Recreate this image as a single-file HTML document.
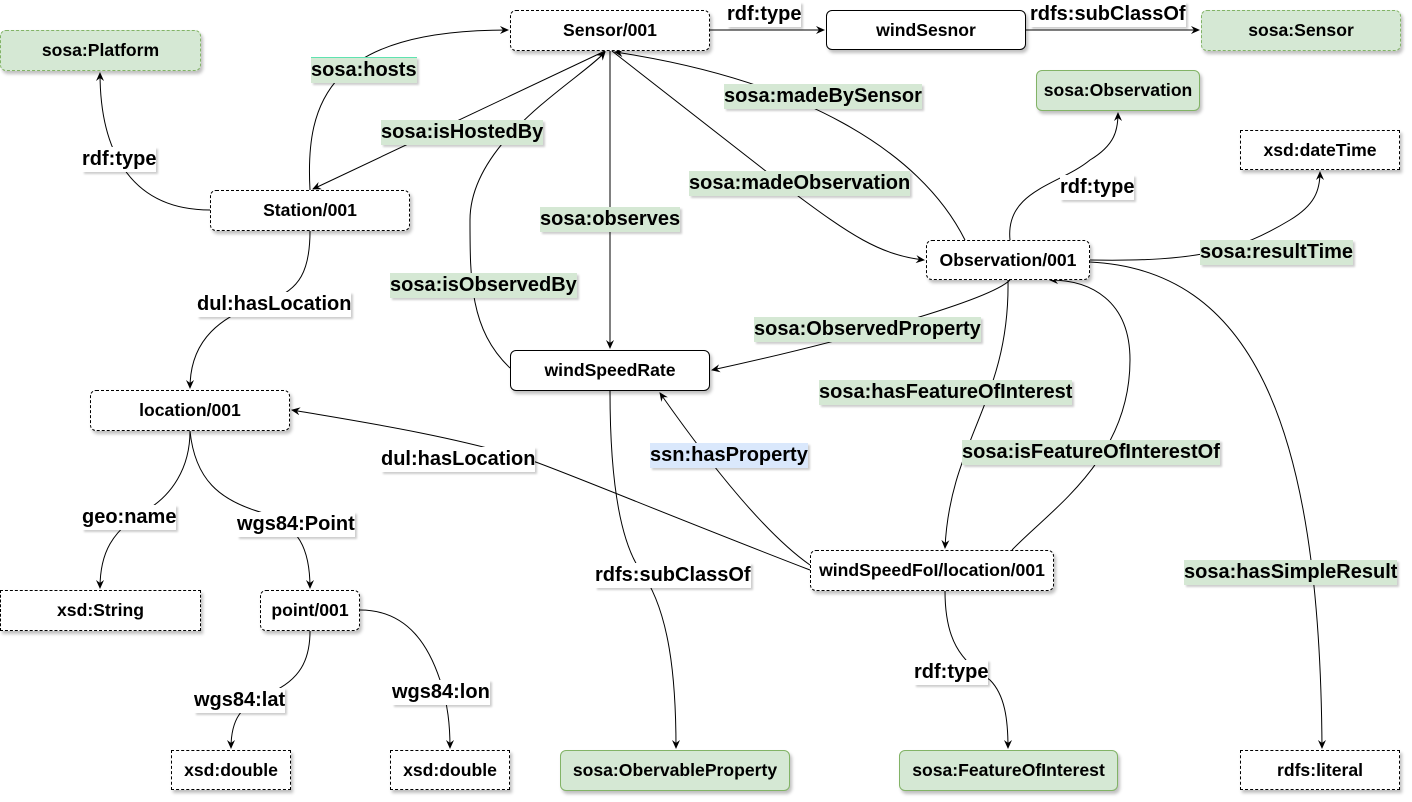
<!DOCTYPE html>
<html><head><meta charset="utf-8"><style>
body{margin:0;width:1412px;height:802px;background:#fff;position:relative;overflow:hidden;font-family:"Liberation Sans",Arial,sans-serif;}
.n{position:absolute;box-sizing:border-box;display:flex;align-items:center;justify-content:center;font-weight:bold;font-size:17.6px;color:#000;background:#fff;border:1px dashed #000;border-radius:6px;box-shadow:2px 3px 3px rgba(0,0,0,0.25);white-space:nowrap}
.s{border-style:solid}
.g{background:#d5e8d4;border-color:#82b366}
.q{border-radius:0}
.l{position:absolute;font-weight:bold;font-size:20px;line-height:25px;height:25px;white-space:nowrap;background:#fff;box-shadow:2px 2px 2px rgba(0,0,0,0.2);}
.lg{background:#d5e8d4}
.lb{background:#dae8fc}
svg{position:absolute;left:0;top:0}
</style></head><body>
<svg width="1412" height="802" fill="none" stroke="#000" stroke-width="1">
<defs><marker id="a" markerWidth="10" markerHeight="10" refX="8" refY="5" orient="auto" markerUnits="userSpaceOnUse"><path d="M0,1 L9,5 L0,9 L3,5Z" fill="#000" stroke="none"/></marker></defs>
<g marker-end="url(#a)">
<path d="M310,190 C305,100 330,30 508,30"/>
<path d="M605,51 L313,189"/>
<path d="M210,210 C130,210 100,150 100,73"/>
<path d="M710,30 L824,30"/>
<path d="M1026,30 L1199,30"/>
<path d="M610,51 L610,348"/>
<path d="M510,368 C470,330 470,280 470,220 C470,140 580,80 605,52"/>
<path d="M612,51 L790,190 C850,235 880,255 924,260"/>
<path d="M965,240 C920,150 800,80 615,52"/>
<path d="M1010,240 C1005,190 1060,185 1090,160 C1115,145 1118,130 1118,113"/>
<path d="M1090,260 C1200,262 1240,250 1290,220 C1315,205 1320,190 1320,172"/>
<path d="M1090,262 C1250,270 1320,420 1322,748"/>
<path d="M1010,280 C990,300 850,340 712,370"/>
<path d="M1008,280 C1010,400 950,440 945,548"/>
<path d="M1012,550 C1050,510 1130,460 1130,360 C1130,300 1090,280 1050,280"/>
<path d="M810,565 C760,530 700,450 660,393"/>
<path d="M810,570 C680,520 560,470 530,460 C450,435 350,420 292,410"/>
<path d="M610,391 C610,480 620,540 640,570 C670,610 676,680 676,748"/>
<path d="M945,591 C945,640 960,660 990,680 C1005,695 1008,720 1008,748"/>
<path d="M310,231 C310,270 300,290 270,300 C220,315 190,340 190,388"/>
<path d="M190,431 C190,470 170,495 150,508 C110,530 100,555 100,588"/>
<path d="M190,431 C195,480 220,500 260,512 C300,525 310,550 310,588"/>
<path d="M310,631 C310,660 300,680 270,693 C240,705 231,720 231,748"/>
<path d="M360,610 C410,610 430,650 440,680 C448,705 450,725 450,748"/>
</g></svg>
<div class="n g" style="left:0;top:30px;width:201px;height:41px">sosa:Platform</div>
<div class="n" style="left:510px;top:10px;width:200px;height:41px">Sensor/001</div>
<div class="n s" style="left:826px;top:10px;width:200px;height:40px">windSesnor</div>
<div class="n g" style="left:1201px;top:10px;width:200px;height:41px">sosa:Sensor</div>
<div class="n g s" style="left:1036px;top:70px;width:164px;height:41px">sosa:Observation</div>
<div class="n q" style="left:1240px;top:130px;width:160px;height:40px">xsd:dateTime</div>
<div class="n" style="left:210px;top:190px;width:200px;height:41px">Station/001</div>
<div class="n" style="left:926px;top:240px;width:164px;height:40px">Observation/001</div>
<div class="n s" style="left:510px;top:350px;width:200px;height:41px">windSpeedRate</div>
<div class="n" style="left:90px;top:390px;width:200px;height:41px">location/001</div>
<div class="n" style="left:810px;top:550px;width:244px;height:41px">windSpeedFoI/location/001</div>
<div class="n q" style="left:0;top:590px;width:201px;height:41px">xsd:String</div>
<div class="n" style="left:260px;top:590px;width:100px;height:41px">point/001</div>
<div class="n q" style="left:171px;top:750px;width:120px;height:40px">xsd:double</div>
<div class="n q" style="left:390px;top:750px;width:120px;height:40px">xsd:double</div>
<div class="n g s" style="left:560px;top:750px;width:230px;height:41px">sosa:ObervableProperty</div>
<div class="n g s" style="left:899px;top:750px;width:219px;height:41px">sosa:FeatureOfInterest</div>
<div class="n q" style="left:1240px;top:750px;width:160px;height:40px">rdfs:literal</div>

<div class="l lg" style="left:311px;top:57px;border-top:1px solid #5fe3b0">sosa:hosts</div>
<div class="l lg" style="left:381px;top:120px">sosa:isHostedBy</div>
<div class="l" style="left:82px;top:147px">rdf:type</div>
<div class="l" style="left:727px;top:2px">rdf:type</div>
<div class="l" style="left:1030px;top:2px">rdfs:subClassOf</div>
<div class="l lg" style="left:540px;top:207px">sosa:observes</div>
<div class="l lg" style="left:390px;top:273px">sosa:isObservedBy</div>
<div class="l lg" style="left:689px;top:171px">sosa:madeObservation</div>
<div class="l lg" style="left:724px;top:84px">sosa:madeBySensor</div>
<div class="l" style="left:1060px;top:175px">rdf:type</div>
<div class="l lg" style="left:1200px;top:240px">sosa:resultTime</div>
<div class="l lg" style="left:1184px;top:560px">sosa:hasSimpleResult</div>
<div class="l lg" style="left:754px;top:317px">sosa:ObservedProperty</div>
<div class="l lg" style="left:819px;top:380px">sosa:hasFeatureOfInterest</div>
<div class="l lg" style="left:962px;top:440px">sosa:isFeatureOfInterestOf</div>
<div class="l lb" style="left:650px;top:443px">ssn:hasProperty</div>
<div class="l" style="left:381px;top:447px">dul:hasLocation</div>
<div class="l" style="left:595px;top:563px">rdfs:subClassOf</div>
<div class="l" style="left:914px;top:660px">rdf:type</div>
<div class="l" style="left:197px;top:292px">dul:hasLocation</div>
<div class="l" style="left:82px;top:505px">geo:name</div>
<div class="l" style="left:237px;top:512px">wgs84:Point</div>
<div class="l" style="left:194px;top:688px">wgs84:lat</div>
<div class="l" style="left:392px;top:680px">wgs84:lon</div>
</body></html>
